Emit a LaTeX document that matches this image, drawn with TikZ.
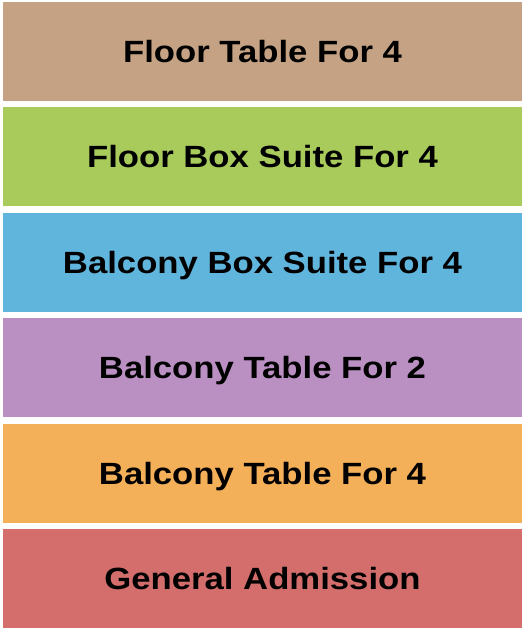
\documentclass[tikz,border=0pt]{standalone}
\usepackage{fontspec}
\setmainfont{Liberation Sans}
\usetikzlibrary{positioning}

\definecolor{tablefour}{HTML}{C4A283}
\definecolor{floorbox}{HTML}{A9CB5C}
\definecolor{balconybox}{HTML}{60B5DD}
\definecolor{balconytwo}{HTML}{BA90C2}
\definecolor{balconyfour}{HTML}{F4AF59}
\definecolor{general}{HTML}{D46E6C}

% labels in the chart are a little wider than the font
\newcommand{\seatlabel}[1]{\scalebox{1.13}[1]{#1}}

\begin{document}
\begin{tikzpicture}
[
	              x = 1pt,
	              y = -1pt,
	   section/.style = { rectangle, inner sep=0pt, minimum width=519pt, minimum height=99pt,
	                      text height=22pt, text depth=0pt,
	                      font=\fontsize{30.7}{36}\selectfont\bfseries, text=black }
]
	\useasboundingbox (0,0) rectangle (525,630);

	% sections
	\node (FT4) at (262.5,51)    [section, fill=tablefour]   {\seatlabel{Floor Table For 4}};
	\node (FB4) at (262.5,156.5) [section, fill=floorbox]    {\seatlabel{Floor Box Suite For 4}};
	\node (BB4) at (262.5,262.5) [section, fill=balconybox]  {\seatlabel{Balcony Box Suite For 4}};
	\node (BT2) at (262.5,367.5) [section, fill=balconytwo]  {\seatlabel{Balcony Table For 2}};
	\node (BT4) at (262.5,473)   [section, fill=balconyfour] {\seatlabel{Balcony Table For 4}};
	\node (GA)  at (262.5,578.5) [section, fill=general]     {\seatlabel{General Admission}};

\end{tikzpicture}
\end{document}
